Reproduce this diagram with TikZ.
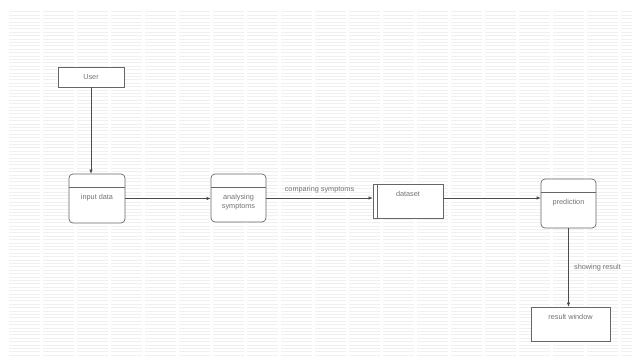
\documentclass[tikz,border=0pt]{standalone}
\usepackage{fontspec}
\setmainfont{Liberation Sans}
\usetikzlibrary{calc,arrows.meta}
\tikzset{
  boxline/.style={draw=black!60, line width=0.7pt, fill=white},
  procbox/.style={boxline, rounded corners=4pt, minimum width=56pt, minimum height=49pt},
  plainbox/.style={boxline},
  lbl/.style={font=\fontsize{7.3}{9}\selectfont, text=black!55, align=center},
  conn/.style={draw=black!70, line width=0.6pt, -{Latex[length=4pt,width=3.5pt]}},
  bgline/.style={draw=black!6, line width=1pt, dash pattern=on 31pt off 3pt},
}
\begin{document}
\begin{tikzpicture}[x=1pt,y=-1pt]
\useasboundingbox (0,0) rectangle (641,363);
\fill[white] (0,0) rectangle (641,363);
\foreach \yy in {12,15.4,...,356} {\draw[bgline] (9,\yy) -- (632,\yy);}
% nodes
\node[plainbox, minimum width=66pt, minimum height=20pt] (user) at (91,77) {};
\node[lbl] at (user.center) {User};
\node[procbox] (input) at (97,198.5) {};
\node[procbox, minimum width=55pt, minimum height=48pt] (anal) at (238.5,198) {};
\node[plainbox, minimum width=70pt, minimum height=34pt] (data) at (408,201) {};
\node[procbox, minimum width=55pt] (pred) at (568.5,203.5) {};
\node[plainbox, minimum width=79pt, minimum height=34pt] (res) at (570.5,324) {};
% dividers
\draw[draw=black!60, line width=0.6pt] ($(input.north west)+(0,14)$) -- ($(input.north east)+(0,14)$);
\draw[draw=black!60, line width=0.6pt] ($(anal.north west)+(0,14)$) -- ($(anal.north east)+(0,14)$);
\draw[draw=black!60, line width=0.6pt] ($(pred.north west)+(0,14)$) -- ($(pred.north east)+(0,14)$);
\draw[draw=black!60, line width=0.6pt] ($(data.north west)+(5,0)$) -- ($(data.south west)+(5,0)$);
% texts
\node[lbl] at ($(input.north)+(0,24)$) {input data};
\node[lbl] at ($(anal.north)+(0,28)$) {analysing\\symptoms};
\node[lbl] at ($(data.north)+(0,10)$) {dataset};
\node[lbl] at ($(pred.north)+(0,24)$) {prediction};
\node[lbl] at ($(res.north)+(0,10)$) {result window};
% connectors
\draw[conn] (user.south) -- (user.south |- input.north);
\draw[conn] (input.east) -- (input.east -| anal.west);
\draw[conn] (anal.east |- 0,198) -- node[lbl, above=1pt] {comparing symptoms} (data.west |- 0,198);
\draw[conn] (data.east |- 0,198) -- (pred.west |- 0,198);
\draw[conn] (pred.south) -- node[lbl, right=2pt, pos=0.5] {showing result} (pred.south |- res.north);
\end{tikzpicture}
\end{document}
